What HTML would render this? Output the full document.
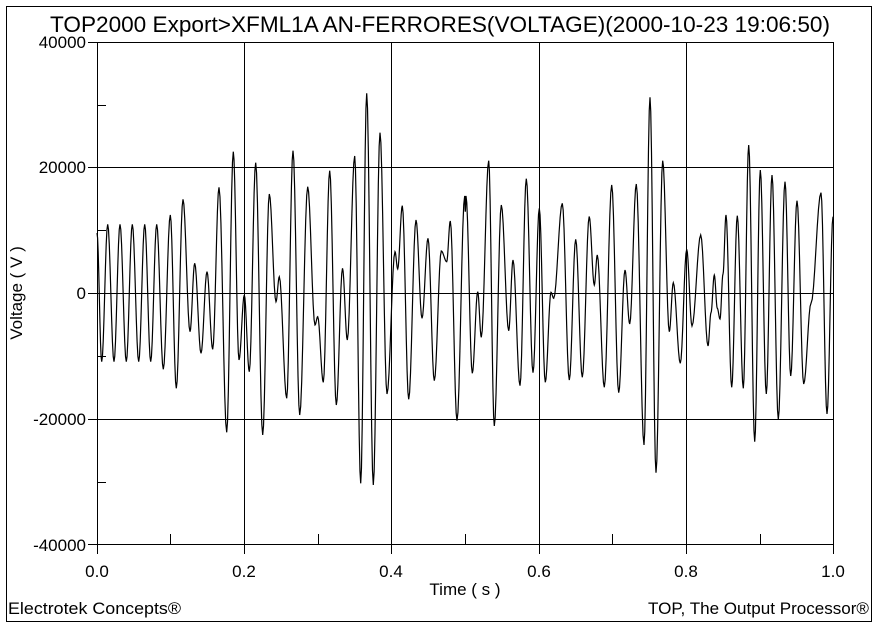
<!DOCTYPE html>
<html><head><meta charset="utf-8"><style>
html,body{margin:0;padding:0;background:#fff;}
svg{display:block;font-family:"Liberation Sans",Arial,sans-serif;}
</style></head><body>
<svg id="s" width="879" height="630" xmlns="http://www.w3.org/2000/svg">
<rect x="6.5" y="6.5" width="865" height="615" fill="none" stroke="#000" stroke-width="1"/>
<text x="50" y="32" font-size="22.5" textLength="780" lengthAdjust="spacingAndGlyphs">TOP2000 Export&gt;XFML1A AN-FERRORES(VOLTAGE)(2000-10-23 19:06:50)</text>
<g stroke="#000" stroke-width="1">
<line x1="88" y1="42.5" x2="833" y2="42.5"/>
<line x1="88" y1="167.5" x2="833" y2="167.5"/>
<line x1="88" y1="293.5" x2="833" y2="293.5"/>
<line x1="88" y1="419.5" x2="833" y2="419.5"/>
<line x1="88" y1="544.5" x2="833" y2="544.5"/>
<line x1="97.5" y1="42" x2="97.5" y2="554"/>
<line x1="244.5" y1="42" x2="244.5" y2="554"/>
<line x1="391.5" y1="42" x2="391.5" y2="554"/>
<line x1="539.5" y1="42" x2="539.5" y2="554"/>
<line x1="686.5" y1="42" x2="686.5" y2="554"/>
<line x1="833.5" y1="42" x2="833.5" y2="554"/>
<line x1="97" y1="105.5" x2="106" y2="105.5"/>
<line x1="97" y1="230.5" x2="106" y2="230.5"/>
<line x1="97" y1="356.5" x2="106" y2="356.5"/>
<line x1="97" y1="482.5" x2="106" y2="482.5"/>
<line x1="170.5" y1="534" x2="170.5" y2="544"/>
<line x1="318.5" y1="534" x2="318.5" y2="544"/>
<line x1="465.5" y1="534" x2="465.5" y2="544"/>
<line x1="612.5" y1="534" x2="612.5" y2="544"/>
<line x1="760.5" y1="534" x2="760.5" y2="544"/>
</g>
<g font-size="17" text-anchor="end">
<text x="86" y="48">40000</text>
<text x="86" y="173">20000</text>
<text x="86" y="299">0</text>
<text x="86" y="425">-20000</text>
<text x="86" y="551">-40000</text>
</g>
<g font-size="17" text-anchor="middle">
<text x="97" y="577">0.0</text>
<text x="244" y="577">0.2</text>
<text x="391" y="577">0.4</text>
<text x="539" y="577">0.6</text>
<text x="686" y="577">0.8</text>
<text x="833" y="577">1.0</text>
<text x="465" y="595">Time ( s )</text>
<text transform="translate(22,293) rotate(-90)">Voltage ( V )</text>
</g>
<text x="8" y="614" font-size="17" textLength="173" lengthAdjust="spacingAndGlyphs">Electrotek Concepts®</text>
<text x="648" y="614" font-size="17" textLength="221" lengthAdjust="spacingAndGlyphs">TOP, The Output Processor®</text>
<path id="w" fill="none" stroke="#000" stroke-width="1.2" d=""/>
</svg>
<script>
var p=[[97,233],[101.7,361.7],[107.7,224.3],[114,361.7],[120,224.3],[126.3,361.7],[132.3,224.3],[138.7,361.7],[144.7,224.3],[150.7,361.7],[156.7,224.3],[163.3,369.3],[170.3,215],[176.3,388.3],[183,199.3],[190,331.7],[194.7,263.3],[201,353.3],[207,271.7],[212.7,349.3],[219,187.3],[226.7,432.3],[233.3,151.7],[239,360],[244.3,295],[249.3,371.7],[255.7,162.7],[262.7,435],[269.3,194],[276,301.7],[279.3,276.7],[286.7,398.3],[293,150.7],[299.7,415],[307.7,186.7],[315,325],[317.7,316.7],[323.3,382.3],[329.7,170.7],[336.3,405],[342.5,268.3],[347.3,340],[354.7,156],[360.7,483.3],[366.7,93.3],[373.3,485],[380,132.7],[387,394],[395,251.7],[397.7,269],[402.3,205.7],[408.7,399.3],[416,220],[422,318.3],[428,238.3],[434.3,380.7],[441.3,251],[446.7,261.7],[450.3,221],[457,420.7],[464.7,196],[465.3,211.7],[466,196],[472.3,373.3],[477.7,291.7],[481.3,337.3],[488.7,160.7],[494.3,426],[501.3,205],[508.7,330.7],[513,260],[520,385.7],[526.3,178.7],[533,372.7],[539.3,208.3],[545.3,382.3],[551,292.3],[553.7,298.3],[562.3,203.3],[569.3,380],[575.7,239.3],[582.3,377.3],[589.2,216.5],[594.3,285],[597.3,255],[604.3,387.3],[611.7,185],[618.7,392.7],[625,270],[629.7,324],[636.3,184],[644,445],[650,97.3],[656,472.7],[662.7,160.7],[669.3,331.7],[673.3,282.7],[680.3,363.3],[686.7,249.3],[692,326],[700.7,235],[708,346],[711,312.7],[714.3,275],[717.3,308.3],[720,319],[723,274],[726,215],[731.7,387.3],[737.3,215.7],[743.3,388.3],[748.7,145],[754.7,441.7],[760.3,170],[766.3,394],[772,175],[778.3,419.3],[785,181.7],[790.7,376],[797,200.7],[803.7,384],[811,303.3],[821,192.7],[827,414],[833,216.7]];
var d="M"+p[0][0]+" "+p[0][1];
for(var i=1;i<p.length;i++){var a=p[i-1],b=p[i];var n=8;for(var k=1;k<=n;k++){var t=k/n;var x=a[0]+(b[0]-a[0])*t;var y=a[1]+(b[1]-a[1])*(1-Math.cos(Math.PI*t))/2;d+=" L"+x.toFixed(2)+" "+y.toFixed(2);}}
document.getElementById("w").setAttribute("d",d);
</script>
</body></html>
